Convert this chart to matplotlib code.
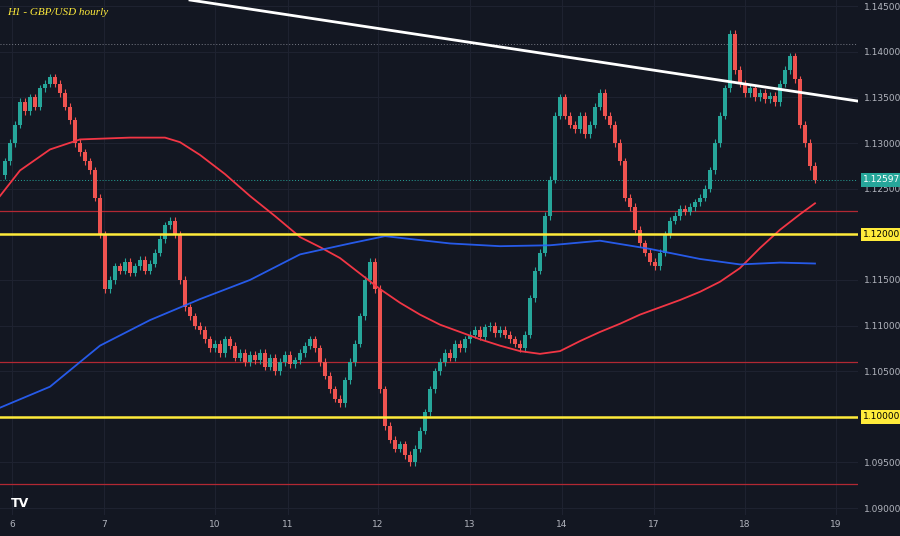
import numpy as np
import matplotlib.pyplot as plt
from matplotlib.patches import Rectangle

closes = [
    1.1280, 1.1300, 1.1320, 1.1345, 1.1335, 1.1350, 1.1340, 1.1360, 1.1365, 1.1372,
    1.1365, 1.1355, 1.1340, 1.1325, 1.1300, 1.1290, 1.1280, 1.1270, 1.1240, 1.1200,
    1.1140, 1.1150, 1.1165, 1.1160, 1.1170, 1.1158, 1.1165, 1.1172, 1.1160, 1.1168,
    1.1180, 1.1195, 1.1210, 1.1215, 1.1200, 1.1150, 1.1120, 1.1110, 1.1100, 1.1095,
    1.1085, 1.1075, 1.1080, 1.1070, 1.1085, 1.1078, 1.1065, 1.1070, 1.1060, 1.1068,
    1.1062, 1.1070, 1.1055, 1.1065, 1.1050, 1.1060, 1.1068, 1.1058, 1.1062, 1.1070,
    1.1078, 1.1085, 1.1075, 1.1060, 1.1045, 1.1030, 1.1020, 1.1015, 1.1040, 1.1060,
    1.1080, 1.1110, 1.1150, 1.1170, 1.1140, 1.1030, 1.0990, 1.0975, 1.0965, 1.0970,
    1.0958, 1.0950, 1.0965, 1.0985, 1.1005, 1.1030, 1.1050, 1.1060, 1.1070, 1.1065,
    1.1080, 1.1075, 1.1085, 1.1090, 1.1095, 1.1088, 1.1098, 1.1100, 1.1092, 1.1095,
    1.1090, 1.1085, 1.1080, 1.1075, 1.1090, 1.1130, 1.1160, 1.1180, 1.1220, 1.1260,
    1.1330, 1.1350, 1.1330, 1.1320, 1.1315, 1.1330, 1.1310, 1.1320, 1.1340, 1.1355,
    1.1330, 1.1320, 1.1300, 1.1280, 1.1240, 1.1230, 1.1205, 1.1190, 1.1180, 1.1170,
    1.1165, 1.1180, 1.1200, 1.1215, 1.1220, 1.1228, 1.1225, 1.1230, 1.1235, 1.1240,
    1.1250, 1.1270, 1.1300, 1.1330, 1.1360, 1.1420, 1.1380, 1.1365, 1.1355, 1.1360,
    1.1350, 1.1355, 1.1348, 1.1352, 1.1345, 1.1365, 1.1380, 1.1395, 1.1370, 1.1320,
    1.1300, 1.1275, 1.12597,
]
first_open = 1.1265

# moving averages, sampled every few candles
ma_red_idx = [-1, 3, 9, 15, 25, 32, 35, 39, 44, 49, 54, 59, 63, 67, 71, 75, 79, 83, 87, 91,
              95, 99, 103, 107, 111, 115, 119, 123, 127, 131, 135, 139, 143, 147, 151, 155, 159, 162]
ma_red = [1.1242, 1.1270, 1.1293, 1.1304, 1.1306, 1.1306, 1.1301, 1.1287, 1.1266, 1.1242,
          1.1220, 1.1197, 1.1186, 1.1174, 1.1157, 1.1140, 1.1125, 1.1112, 1.1101, 1.1093,
          1.1085, 1.1078, 1.1072, 1.1069, 1.1072, 1.1083, 1.1093, 1.1102, 1.1112, 1.1120,
          1.1128, 1.1137, 1.1148, 1.1163, 1.1185, 1.1205, 1.1222, 1.1234]
ma_blue_idx = [-1, 9, 19, 29, 39, 49, 59, 69, 76, 89, 99, 109, 119, 129, 139, 147, 155, 162]
ma_blue = [1.1010, 1.1033, 1.1078, 1.1106, 1.1129, 1.1150, 1.1178, 1.1190, 1.1198, 1.1190,
           1.1187, 1.1188, 1.1193, 1.1184, 1.1173, 1.1167, 1.1169, 1.1168]

day_labels = ["6", "7", "10", "11", "12", "13", "14", "17", "18", "19"]
day_pos = [1.4, 19.8, 42, 56.6, 74.6, 93, 111.4, 129.8, 148, 166.2]
price_ticks = [1.09, 1.095, 1.105, 1.11, 1.115, 1.125, 1.13, 1.135, 1.14, 1.145]

yellow_levels = [1.12, 1.10]
red_levels = [1.1226, 1.1060, 1.0926]
trend_pts = ([37, 170.6], [1.14568, 1.1346])

bg = "#131722"
up, dn = "#26a69a", "#ef5350"
txt = "#b2b5be"

fig = plt.figure(figsize=(9, 5.36), dpi=100, facecolor=bg)
ax = fig.add_axes([0, 1 - 515 / 536, 858 / 900, 515 / 536], facecolor=bg)
ax.set_xlim(-1, 170.6)
ax.set_ylim(1.08924, 1.14568)

for p in price_ticks + yellow_levels:
    ax.axhline(p, color="#1e2230", lw=0.8, zorder=0)
for d in day_pos:
    ax.axvline(d, color="#1e2230", lw=0.8, zorder=0)

opens = [first_open] + closes[:-1]
for i, (o, c) in enumerate(zip(opens, closes)):
    col = up if c >= o else dn
    lo, hi = min(o, c), max(o, c)
    ax.vlines(i, lo - 0.0004, hi + 0.0004, color=col, lw=0.8, zorder=3)
    ax.add_patch(Rectangle((i - 0.35, lo), 0.7, max(hi - lo, 0.00005),
                           color=col, lw=0, zorder=3))

ax.plot(ma_red_idx, ma_red, color="#f23645", lw=1.3, zorder=4)
ax.plot(ma_blue_idx, ma_blue, color="#2962ff", lw=1.3, zorder=4, alpha=0.9)
for y in yellow_levels:
    ax.axhline(y, color="#ffeb3b", lw=1.8, zorder=5)
for y in red_levels:
    ax.axhline(y, color="#b22833", lw=0.9, zorder=2)
ax.plot(*trend_pts, color="white", lw=2, zorder=6)
ax.axhline(1.1409, color="#787b86", lw=0.7, ls=(0, (1, 2)), zorder=1)
ax.axhline(closes[-1], color=up, lw=0.7, ls=(0, (1, 2)), zorder=1)

ax.set_xticks(day_pos)
ax.set_xticklabels(day_labels)
ax.set_yticks(price_ticks)
ax.set_yticklabels([f"{p:.5f}" for p in price_ticks])
ax.yaxis.tick_right()
ax.tick_params(colors=txt, labelsize=6.5, length=0)
ax.tick_params(axis="y", pad=4)
for s in ax.spines.values():
    s.set_visible(False)

ax.text(171.6, closes[-1], f"{closes[-1]:.5f}", color="white", fontsize=6.5, va="center",
        ha="left", bbox=dict(boxstyle="square,pad=0.25", fc=up, ec="none"), clip_on=False)
for y in yellow_levels:
    ax.text(171.6, y, f"{y:.5f}", color="black", fontsize=6.5, va="center", ha="left",
            bbox=dict(boxstyle="square,pad=0.25", fc="#ffeb3b", ec="none"), clip_on=False)

fig.text(0.008, 0.985, "H1 - GBP/USD hourly", color="#ffeb3b", fontsize=8,
         style="italic", family="Liberation Serif", va="top")
fig.text(0.012, 0.055, "TV", color="white", fontsize=9, weight="bold")

fig.savefig("out.png", dpi=100, facecolor=bg)
